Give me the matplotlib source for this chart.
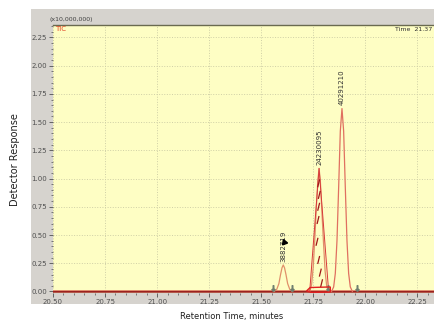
import matplotlib.pyplot as plt
from matplotlib.patches import Rectangle, Polygon
from matplotlib.ticker import MultipleLocator

# 色谱图数据
peak_times = [21.606, 21.778, 21.888]
peak_heights = [0.235, 1.09, 1.62]
peak_labels = ['3882719', '24230095', '40291210']

# 各峰的轨迹点 (保留时间, 响应 x10,000,000)
trace1_t = [21.562, 21.575, 21.585, 21.593, 21.600, 21.606, 21.612, 21.619, 21.627, 21.637, 21.650]
trace1_y = [0.0, 0.02, 0.07, 0.15, 0.21, 0.235, 0.21, 0.15, 0.07, 0.02, 0.0]
trace2_t = [21.733, 21.742, 21.750, 21.758, 21.765, 21.772, 21.778, 21.784, 21.791, 21.799, 21.807, 21.815, 21.824]
trace2_y = [0.0, 0.06, 0.22, 0.48, 0.75, 0.98, 1.09, 0.98, 0.73, 0.44, 0.18, 0.04, 0.0]
trace3_t = [21.838, 21.848, 21.856, 21.864, 21.872, 21.880, 21.888, 21.896, 21.904, 21.912, 21.920, 21.928, 21.938]
trace3_y = [0.0, 0.04, 0.16, 0.45, 0.92, 1.42, 1.62, 1.42, 0.92, 0.45, 0.16, 0.04, 0.0]

# 峰2内部的斜线（积分标记）
hatch_t = [21.776, 21.779, 21.776, 21.773, 21.768, 21.776, 21.784, 21.790]
hatch_y = [0.958, 0.855, 0.75, 0.633, 0.44, 0.279, 0.167, 0.073]

# 基线上的小箭头标记
arrow_t = [21.557, 21.649, 21.823, 21.960]

x_ticks = [20.50, 20.75, 21.00, 21.25, 21.50, 21.75, 22.00, 22.25]
y_ticks = [0.00, 0.25, 0.50, 0.75, 1.00, 1.25, 1.50, 1.75, 2.00, 2.25]

fig = plt.figure(figsize=(4.34, 3.24), dpi=100)
fig.patch.set_facecolor('white')

# 灰色面板背景
fig.patches.append(Rectangle((31 / 434, 20 / 324), 1 - 31 / 434, 295 / 324,
                             transform=fig.transFigure, facecolor='#d6d3ce',
                             edgecolor='none', zorder=-1))

ax = fig.add_axes([53 / 434, 31.4 / 324, 1 - 53 / 434, 267.6 / 324])
ax.set_zorder(2)
ax.set_facecolor('#fefec4')
ax.set_xlim(20.5, 22.33)
ax.set_ylim(-0.01, 2.36)

ax.set_xticks(x_ticks)
ax.set_xticklabels([f'{v:.2f}' for v in x_ticks])
ax.set_yticks(y_ticks)
ax.set_yticklabels([f'{v:.2f}' for v in y_ticks])
ax.xaxis.set_minor_locator(MultipleLocator(0.05))
ax.yaxis.set_minor_locator(MultipleLocator(0.05))
ax.tick_params(which='both', direction='out', colors='#505050', labelsize=5, pad=1.5)
ax.tick_params(which='major', length=3, width=0.6)
ax.tick_params(which='minor', length=1.5, width=0.5)
ax.grid(True, which='major', linestyle=':', color='#cfcfa6', linewidth=0.7)

for side in ['left', 'right']:
    ax.spines[side].set_visible(False)
ax.spines['top'].set_color('#6a6a50')
ax.spines['top'].set_linewidth(1.0)
ax.spines['bottom'].set_visible(False)

# 基线
ax.plot([20.5, 22.33], [0.003, 0.003], color='#9b2020', linewidth=1.8, zorder=3)
ax.plot([20.5, 22.33], [0.010, 0.010], color='#e09070', linewidth=0.7, zorder=3)

# 峰
ax.plot(trace1_t, trace1_y, color='#e0906a', linewidth=0.9, zorder=4)
ax.plot(trace2_t, trace2_y, color='#e0906a', linewidth=0.9, zorder=4)
ax.plot([trace2_t[0], peak_times[1], trace2_t[-1]], [0.0, peak_heights[1], 0.0],
        color='#d83a3a', linewidth=0.7, zorder=4)
ax.plot(trace3_t, trace3_y, color='#e07060', linewidth=0.9, zorder=4)

for t, y in zip(hatch_t, hatch_y):
    ax.plot([t - 0.004, t + 0.004], [y - 0.03, y + 0.03], color='#a01818',
            linewidth=0.9, zorder=5)

# 峰2底部的红色框
ax.add_patch(Polygon([(21.718, 0.005), (21.735, 0.035), (21.832, 0.04),
                      (21.832, -0.005), (21.74, -0.008)],
                     closed=True, fill=False, edgecolor='#e02020', linewidth=1.0, zorder=6))

for t in arrow_t:
    ax.plot(t, 0.035, marker='$\\downarrow$', color='#6f7f6f', markersize=4, zorder=5)

# 峰标签
for t, h, lab in zip(peak_times, peak_heights, peak_labels):
    ax.text(t, h + 0.03, lab, rotation=90, ha='center', va='bottom',
            fontsize=5, color='#303030', zorder=6)

# 光标
ax.plot(21.608, 0.44, marker=(3, 0, 20), color='black', markersize=4.5, zorder=7)

ax.text(0.005, 0.995, 'TIC', transform=ax.transAxes, ha='left', va='top',
        fontsize=5, color='#e04020')
ax.text(0.995, 0.993, 'Time  21.37', transform=ax.transAxes, ha='right', va='top',
        fontsize=4.5, color='#303030')
fig.text(50 / 434, 1 - 20 / 324, '(x10,000,000)', ha='left', va='center',
         fontsize=4.5, color='#404040')

fig.text(15 / 434, 1 - 160 / 324, 'Detector Response', rotation=90, ha='center',
         va='center', fontsize=7, color='#202020')
fig.text(232 / 434, 1 - 316 / 324, 'Retention Time, minutes', ha='center',
         va='center', fontsize=6, color='#202020')

plt.savefig('out.png', dpi=100)
